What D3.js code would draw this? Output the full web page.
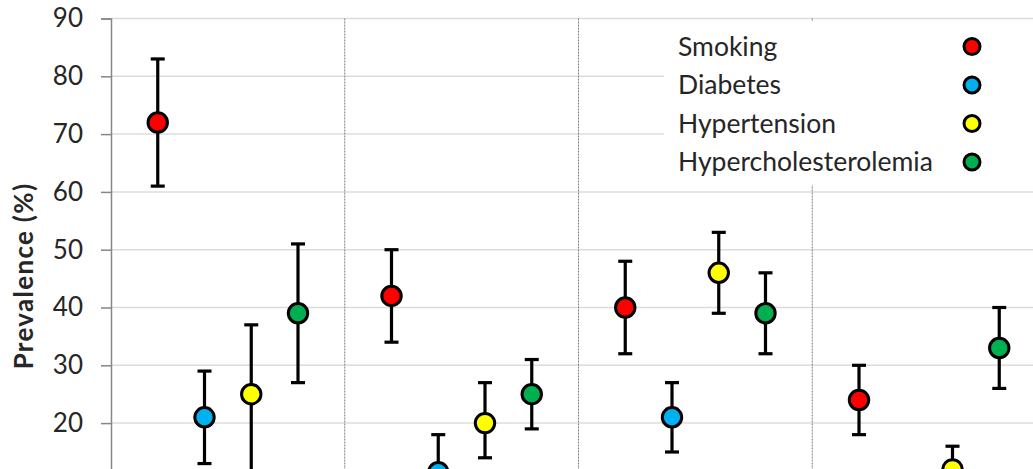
<!DOCTYPE html>
<html>
<head>
<meta charset="utf-8">
<script src="https://cdn.jsdelivr.net/npm/d3@7"></script>
<style>
  body { margin: 0; background: #fff; }
  text { font-family: Lato, "Open Sans", sans-serif; fill: #262626; }
</style>
</head>
<body>
<div id="chart"></div>
<script>
var width = 1033
var height = 469

// data
var groups = ["G1", "G2", "G3", "G4"]
var series = ["Smoking", "Diabetes", "Hypertension", "Hypercholesterolemia"]
var colors = ["#ff0000", "#00b0f0", "#ffff00", "#00b050"]

var smoking      = [72, 42, 40, 24]
var smokingLow   = [61, 34, 32, 18]
var smokingHigh  = [83, 50, 48, 30]

var diabetes     = [21, 11.5, 21, 4]
var diabetesLow  = [13, 6, 15, 1]
var diabetesHigh = [29, 18, 27, 7]

var hyper        = [25, 20, 46, 12]
var hyperLow     = [10, 14, 39, 8]
var hyperHigh    = [37, 27, 53, 16]

var chol         = [39, 25, 39, 33]
var cholLow      = [27, 19, 32, 26]
var cholHigh     = [51, 31, 46, 40]

var yTicks = [20, 30, 40, 50, 60, 70, 80, 90]

var values = [smoking, diabetes, hyper, chol]
var lows = [smokingLow, diabetesLow, hyperLow, cholLow]
var highs = [smokingHigh, diabetesHigh, hyperHigh, cholHigh]

var points = []
groups.forEach(function(g, gi){
    series.forEach(function(s, si){
        points.push({group: g, series: s, color: colors[si],
            v: values[si][gi], lo: lows[si][gi], hi: highs[si][gi]})
    })
})

var margin = {left: 111, top: 18.5}
var plotW = 935
var plotH = 520.2

var svg = d3.select("#chart")
    .append("svg")
    .attr("width", width)
    .attr("height", height)

var x = d3.scaleBand()
    .domain(groups)
    .range([margin.left, margin.left + plotW])

var xInner = d3.scalePoint()
    .domain(series)
    .range([0, x.bandwidth()])
    .padding(1)

var y = d3.scaleLinear()
    .domain([0, 90])
    .range([margin.top + plotH, margin.top])

// gridlines
svg.append("g")
    .selectAll("line")
    .data(yTicks)
    .enter()
    .append("line")
    .attr("x1", margin.left)
    .attr("x2", margin.left + plotW)
    .attr("y1", d => y(d))
    .attr("y2", d => y(d))
    .attr("stroke", "#dcdcdc")
    .attr("stroke-width", 1.5)

// group separators
svg.append("g")
    .selectAll("line")
    .data(groups.slice(1))
    .enter()
    .append("line")
    .attr("x1", d => x(d))
    .attr("x2", d => x(d))
    .attr("y1", y(90))
    .attr("y2", y(0))
    .attr("stroke", "#7f7f7f")
    .attr("stroke-width", 1)
    .attr("stroke-dasharray", "2,1")

// y axis
var yAxis = d3.axisLeft(y)
    .tickValues(yTicks)
    .tickSize(10)
    .tickPadding(18)

var ax = svg.append("g")
    .attr("transform", "translate(" + margin.left + ",0)")
    .call(yAxis)

ax.select(".domain").attr("stroke", "#868686").attr("stroke-width", 1.5)
ax.selectAll(".tick line").attr("stroke", "#868686").attr("stroke-width", 1.5)
ax.selectAll(".tick text")
    .style("font-family", "Lato, sans-serif")
    .style("font-size", "26px")
    .attr("fill", "#262626")

svg.append("text")
    .attr("transform", "translate(33,276) rotate(-90)")
    .attr("text-anchor", "middle")
    .style("font-size", "26px")
    .style("font-weight", "bold")
    .style("letter-spacing", "1.3px")
    .text("Prevalence (%)")

// legend box
var legend = svg.append("g")

legend.append("rect")
    .attr("x", 664)
    .attr("y", 21)
    .attr("width", 400)
    .attr("height", 164)
    .attr("fill", "#fff")

var legendY = d3.scalePoint()
    .domain(series)
    .range([46.5, 162])

legend.selectAll("text")
    .data(series)
    .enter()
    .append("text")
    .attr("x", 678)
    .attr("y", d => legendY(d))
    .attr("dy", "0.35em")
    .style("font-size", "26.5px")
    .text(d => d)

legend.selectAll("circle")
    .data(series)
    .enter()
    .append("circle")
    .attr("cx", 972)
    .attr("cy", d => legendY(d))
    .attr("r", 8)
    .attr("fill", (d, i) => colors[i])
    .attr("stroke", "#000")
    .attr("stroke-width", 3)

// error bars
var marks = svg.append("g")
    .selectAll("g")
    .data(points)
    .enter()
    .append("g")
    .attr("transform", d => "translate(" + (x(d.group) + xInner(d.series)) + ",0)")

marks.append("line")
    .attr("y1", d => y(d.lo))
    .attr("y2", d => y(d.hi))
    .attr("stroke", "#000")
    .attr("stroke-width", 3.2)

marks.append("line")
    .attr("x1", -7).attr("x2", 7)
    .attr("y1", d => y(d.hi))
    .attr("y2", d => y(d.hi))
    .attr("stroke", "#000")
    .attr("stroke-width", 3.2)

marks.append("line")
    .attr("x1", -7).attr("x2", 7)
    .attr("y1", d => y(d.lo))
    .attr("y2", d => y(d.lo))
    .attr("stroke", "#000")
    .attr("stroke-width", 3.2)

marks.append("circle")
    .attr("cy", d => y(d.v))
    .attr("r", 9.7)
    .attr("fill", d => d.color)
    .attr("stroke", "#000")
    .attr("stroke-width", 3)
</script>
</body>
</html>
